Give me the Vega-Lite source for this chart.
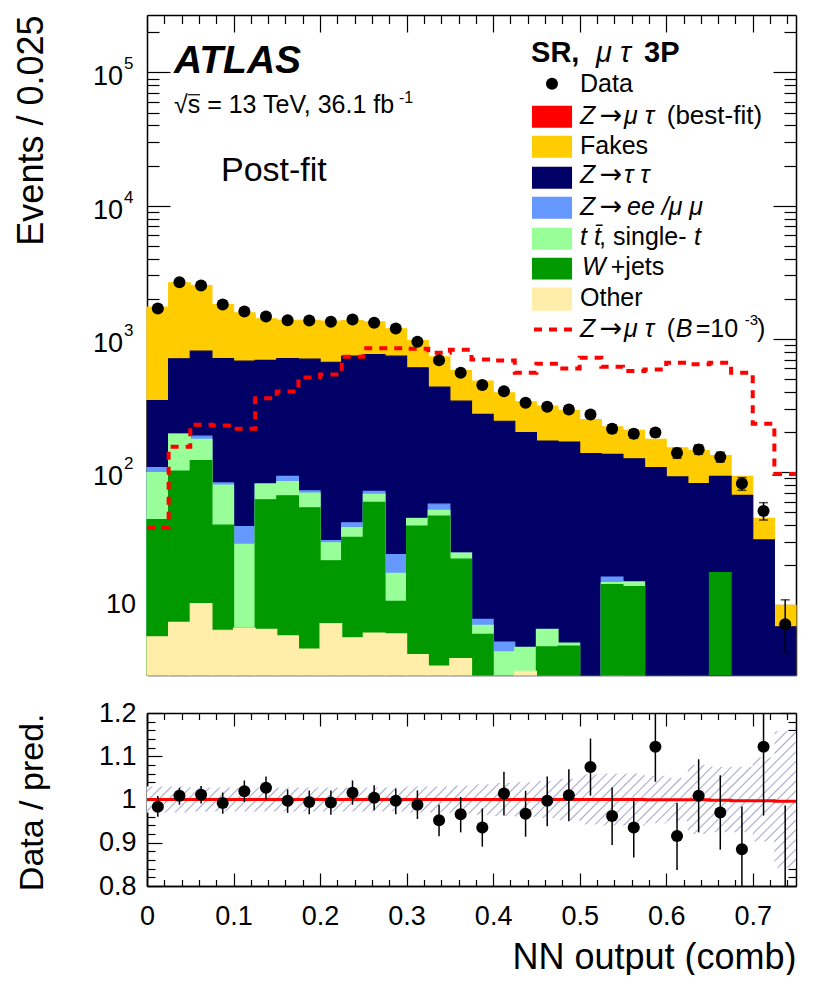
{"$schema":"https://vega.github.io/schema/vega-lite/v6.json","background":"white","padding":{"left":13,"top":14,"right":0,"bottom":0},"spacing":23,
"config":{"view":{"stroke":null},"text":{"baseline":"alphabetic","align":"left","font":"Liberation Sans","color":"#000"},"axis":{"domainColor":"#000","domainWidth":1.5,"tickColor":"#000","tickWidth":1.2,"labelFont":"Liberation Sans","titleFont":"Liberation Sans","labelColor":"#000","titleColor":"#000","labelFontSize":27,"titleFontSize":36,"titleFontWeight":"normal","grid":false,"zindex":1,"labelOverlap":false,"labelFlush":false,"labelBound":false}},
"datasets":{
"stack":[
{"p":"Fakes","b":0,"e":0.025,"top":1730},{"p":"Fakes","b":0.025,"e":0.05,"top":2636},{"p":"Fakes","b":0.05,"e":0.075,"top":2515},{"p":"Fakes","b":0.075,"e":0.1,"top":1811},{"p":"Fakes","b":0.1,"e":0.125,"top":1570},{"p":"Fakes","b":0.125,"e":0.15,"top":1415},{"p":"Fakes","b":0.15,"e":0.175,"top":1381},{"p":"Fakes","b":0.175,"e":0.2,"top":1381},{"p":"Fakes","b":0.2,"e":0.225,"top":1358},{"p":"Fakes","b":0.225,"e":0.25,"top":1374},{"p":"Fakes","b":0.25,"e":0.275,"top":1343},{"p":"Fakes","b":0.275,"e":0.3,"top":1191},{"p":"Fakes","b":0.3,"e":0.325,"top":973},{"p":"Fakes","b":0.325,"e":0.35,"top":734},{"p":"Fakes","b":0.35,"e":0.375,"top":579},{"p":"Fakes","b":0.375,"e":0.4,"top":482},{"p":"Fakes","b":0.4,"e":0.425,"top":394},{"p":"Fakes","b":0.425,"e":0.45,"top":337},{"p":"Fakes","b":0.45,"e":0.475,"top":313},{"p":"Fakes","b":0.475,"e":0.5,"top":290},{"p":"Fakes","b":0.5,"e":0.525,"top":248},{"p":"Fakes","b":0.525,"e":0.55,"top":219},{"p":"Fakes","b":0.55,"e":0.575,"top":206},{"p":"Fakes","b":0.575,"e":0.6,"top":176},{"p":"Fakes","b":0.6,"e":0.625,"top":152},{"p":"Fakes","b":0.625,"e":0.65,"top":145},{"p":"Fakes","b":0.65,"e":0.675,"top":133},{"p":"Fakes","b":0.675,"e":0.7,"top":93},{"p":"Fakes","b":0.7,"e":0.725,"top":45},{"p":"Fakes","b":0.725,"e":0.75,"top":10},
{"p":"Ztt","b":0,"e":0.025,"top":344},{"p":"Ztt","b":0.025,"e":0.05,"top":709},{"p":"Ztt","b":0.05,"e":0.075,"top":809},{"p":"Ztt","b":0.075,"e":0.1,"top":713},{"p":"Ztt","b":0.1,"e":0.125,"top":680},{"p":"Ztt","b":0.125,"e":0.15,"top":689},{"p":"Ztt","b":0.15,"e":0.175,"top":713},{"p":"Ztt","b":0.175,"e":0.2,"top":704},{"p":"Ztt","b":0.2,"e":0.225,"top":668},{"p":"Ztt","b":0.225,"e":0.25,"top":742},{"p":"Ztt","b":0.25,"e":0.275,"top":764},{"p":"Ztt","b":0.275,"e":0.3,"top":742},{"p":"Ztt","b":0.3,"e":0.325,"top":607},{"p":"Ztt","b":0.325,"e":0.35,"top":434},{"p":"Ztt","b":0.35,"e":0.375,"top":341},{"p":"Ztt","b":0.375,"e":0.4,"top":271},{"p":"Ztt","b":0.4,"e":0.425,"top":241},{"p":"Ztt","b":0.425,"e":0.45,"top":198},{"p":"Ztt","b":0.45,"e":0.475,"top":171},{"p":"Ztt","b":0.475,"e":0.5,"top":168},{"p":"Ztt","b":0.5,"e":0.525,"top":138},{"p":"Ztt","b":0.525,"e":0.55,"top":136},{"p":"Ztt","b":0.55,"e":0.575,"top":126},{"p":"Ztt","b":0.575,"e":0.6,"top":108},{"p":"Ztt","b":0.6,"e":0.625,"top":92},{"p":"Ztt","b":0.625,"e":0.65,"top":82},{"p":"Ztt","b":0.65,"e":0.675,"top":93},{"p":"Ztt","b":0.675,"e":0.7,"top":67},{"p":"Ztt","b":0.7,"e":0.725,"top":31},{"p":"Ztt","b":0.725,"e":0.75,"top":6.9},
{"p":"Zll","b":0,"e":0.025,"top":108},{"p":"Zll","b":0.025,"e":0.05,"top":194},{"p":"Zll","b":0.05,"e":0.075,"top":186},{"p":"Zll","b":0.075,"e":0.1,"top":83},{"p":"Zll","b":0.1,"e":0.125,"top":39},{"p":"Zll","b":0.125,"e":0.15,"top":82},{"p":"Zll","b":0.15,"e":0.175,"top":93},{"p":"Zll","b":0.175,"e":0.2,"top":72.5},{"p":"Zll","b":0.2,"e":0.225,"top":30.6},{"p":"Zll","b":0.225,"e":0.25,"top":41.7},{"p":"Zll","b":0.25,"e":0.275,"top":71.7},{"p":"Zll","b":0.275,"e":0.3,"top":24},{"p":"Zll","b":0.3,"e":0.325,"top":45},{"p":"Zll","b":0.325,"e":0.35,"top":57.5},{"p":"Zll","b":0.35,"e":0.375,"top":24.7},{"p":"Zll","b":0.375,"e":0.4,"top":7.85},{"p":"Zll","b":0.4,"e":0.425,"top":5.3},{"p":"Zll","b":0.525,"e":0.55,"top":16.3},
{"p":"Top","b":0,"e":0.025,"top":99},{"p":"Top","b":0.025,"e":0.05,"top":192},{"p":"Top","b":0.05,"e":0.075,"top":176},{"p":"Top","b":0.075,"e":0.1,"top":80},{"p":"Top","b":0.1,"e":0.125,"top":28.7},{"p":"Top","b":0.125,"e":0.15,"top":81},{"p":"Top","b":0.15,"e":0.175,"top":85},{"p":"Top","b":0.175,"e":0.2,"top":69.5},{"p":"Top","b":0.2,"e":0.225,"top":29.5},{"p":"Top","b":0.225,"e":0.25,"top":38.3},{"p":"Top","b":0.25,"e":0.275,"top":68},{"p":"Top","b":0.275,"e":0.3,"top":17.4},{"p":"Top","b":0.3,"e":0.325,"top":44.8},{"p":"Top","b":0.325,"e":0.35,"top":51.6},{"p":"Top","b":0.35,"e":0.375,"top":24.7},{"p":"Top","b":0.375,"e":0.4,"top":7.08},{"p":"Top","b":0.4,"e":0.425,"top":4.47},{"p":"Top","b":0.425,"e":0.45,"top":4.84},{"p":"Top","b":0.45,"e":0.475,"top":6.6},{"p":"Top","b":0.475,"e":0.5,"top":5.2},{"p":"Top","b":0.525,"e":0.55,"top":14.8},{"p":"Top","b":0.55,"e":0.575,"top":15},
{"p":"W","b":0,"e":0.025,"top":44},{"p":"W","b":0.025,"e":0.05,"top":102},{"p":"W","b":0.05,"e":0.075,"top":122},{"p":"W","b":0.075,"e":0.1,"top":40},{"p":"W","b":0.1,"e":0.125,"top":6.75},{"p":"W","b":0.125,"e":0.15,"top":62},{"p":"W","b":0.15,"e":0.175,"top":66.5},{"p":"W","b":0.175,"e":0.2,"top":54},{"p":"W","b":0.2,"e":0.225,"top":21.6},{"p":"W","b":0.225,"e":0.25,"top":32.4},{"p":"W","b":0.25,"e":0.275,"top":59.3},{"p":"W","b":0.275,"e":0.3,"top":10.7},{"p":"W","b":0.3,"e":0.325,"top":39.4},{"p":"W","b":0.325,"e":0.35,"top":46.8},{"p":"W","b":0.35,"e":0.375,"top":22.2},{"p":"W","b":0.375,"e":0.4,"top":6.06},{"p":"W","b":0.45,"e":0.475,"top":4.87},{"p":"W","b":0.475,"e":0.5,"top":4.95},{"p":"W","b":0.525,"e":0.55,"top":14.3},{"p":"W","b":0.55,"e":0.575,"top":13.8},{"p":"W","b":0.65,"e":0.675,"top":17.6},
{"p":"Other","b":0,"e":0.025,"top":5.8},{"p":"Other","b":0.025,"e":0.05,"top":7.45},{"p":"Other","b":0.05,"e":0.075,"top":10.3},{"p":"Other","b":0.075,"e":0.1,"top":6.5},{"p":"Other","b":0.1,"e":0.125,"top":6.75},{"p":"Other","b":0.125,"e":0.15,"top":6.6},{"p":"Other","b":0.15,"e":0.175,"top":5.9},{"p":"Other","b":0.175,"e":0.2,"top":4.7},{"p":"Other","b":0.2,"e":0.225,"top":7.3},{"p":"Other","b":0.225,"e":0.25,"top":5.7},{"p":"Other","b":0.25,"e":0.275,"top":6.2},{"p":"Other","b":0.275,"e":0.3,"top":6.1},{"p":"Other","b":0.3,"e":0.325,"top":4.27},{"p":"Other","b":0.325,"e":0.35,"top":3.5},{"p":"Other","b":0.35,"e":0.375,"top":3.98},{"p":"Other","b":0.425,"e":0.45,"top":3.2}],
"signal":[{"edge":0,"v":38},{"edge":0.025,"v":155},{"edge":0.05,"v":227},{"edge":0.075,"v":224},{"edge":0.1,"v":212},{"edge":0.125,"v":359},{"edge":0.15,"v":403},{"edge":0.175,"v":513},{"edge":0.2,"v":541},{"edge":0.225,"v":734},{"edge":0.25,"v":851},{"edge":0.275,"v":851},{"edge":0.3,"v":843},{"edge":0.325,"v":787},{"edge":0.35,"v":828},{"edge":0.375,"v":700},{"edge":0.4,"v":689},{"edge":0.425,"v":557},{"edge":0.45,"v":650},{"edge":0.475,"v":600},{"edge":0.5,"v":721},{"edge":0.525,"v":617},{"edge":0.55,"v":573},{"edge":0.575,"v":589},{"edge":0.6,"v":662},{"edge":0.625,"v":646},{"edge":0.65,"v":662},{"edge":0.675,"v":557},{"edge":0.7,"v":231},{"edge":0.725,"v":97},{"edge":0.75,"v":97}],
"points":[{"c":0.0125,"n":1690,"lo":1649,"hi":1731,"r":0.983,"rlo":0.96,"rhi":1.008},{"c":0.0375,"n":2662,"lo":2610,"hi":2714,"r":1.0085,"rlo":0.988,"rhi":1.027},{"c":0.0625,"n":2515,"lo":2465,"hi":2565,"r":1.011,"rlo":0.991,"rhi":1.031},{"c":0.0875,"n":1811,"lo":1768,"hi":1854,"r":0.992,"rlo":0.967,"rhi":1.016},{"c":0.1125,"n":1605,"lo":1565,"hi":1645,"r":1.019,"rlo":0.994,"rhi":1.044},{"c":0.1375,"n":1472,"lo":1434,"hi":1510,"r":1.027,"rlo":1,"rhi":1.053},{"c":0.1625,"n":1381,"lo":1344,"hi":1418,"r":0.997,"rlo":0.969,"rhi":1.023},{"c":0.1875,"n":1374,"lo":1337,"hi":1411,"r":0.994,"rlo":0.966,"rhi":1.021},{"c":0.2125,"n":1343,"lo":1306,"hi":1380,"r":0.993,"rlo":0.965,"rhi":1.021},{"c":0.2375,"n":1398,"lo":1361,"hi":1435,"r":1.0155,"rlo":0.988,"rhi":1.044},{"c":0.2625,"n":1321,"lo":1285,"hi":1357,"r":1.004,"rlo":0.975,"rhi":1.033},{"c":0.2875,"n":1197,"lo":1162,"hi":1232,"r":0.997,"rlo":0.966,"rhi":1.025},{"c":0.3125,"n":951,"lo":920,"hi":982,"r":0.988,"rlo":0.955,"rhi":1.021},{"c":0.3375,"n":692,"lo":666,"hi":718,"r":0.952,"rlo":0.915,"rhi":0.988},{"c":0.3625,"n":557,"lo":533,"hi":581,"r":0.966,"rlo":0.924,"rhi":1.006},{"c":0.3875,"n":450,"lo":429,"hi":471,"r":0.935,"rlo":0.891,"rhi":0.979},{"c":0.4125,"n":405,"lo":385,"hi":425,"r":1.014,"rlo":0.963,"rhi":1.064},{"c":0.4375,"n":332,"lo":314,"hi":350,"r":0.967,"rlo":0.914,"rhi":1.02},{"c":0.4625,"n":310,"lo":292,"hi":328,"r":0.997,"rlo":0.938,"rhi":1.053},{"c":0.4875,"n":295,"lo":278,"hi":312,"r":1.01,"rlo":0.95,"rhi":1.07},{"c":0.5125,"n":271,"lo":255,"hi":287,"r":1.075,"rlo":1.009,"rhi":1.141},{"c":0.5375,"n":212,"lo":197,"hi":227,"r":0.962,"rlo":0.895,"rhi":1.028},{"c":0.5625,"n":194,"lo":180,"hi":208,"r":0.935,"rlo":0.866,"rhi":1.002},{"c":0.5875,"n":198,"lo":184,"hi":212,"r":1.122,"rlo":1.041,"rhi":1.27},{"c":0.6125,"n":139,"lo":127,"hi":151,"r":0.9155,"rlo":0.837,"rhi":0.992},{"c":0.6375,"n":148,"lo":136,"hi":160,"r":1.0085,"rlo":0.924,"rhi":1.093},{"c":0.6625,"n":130,"lo":119,"hi":141,"r":0.97,"rlo":0.884,"rhi":1.056},{"c":0.6875,"n":82,"lo":73,"hi":91,"r":0.885,"rlo":0.79,"rhi":0.984},{"c":0.7125,"n":51,"lo":43.7,"hi":59,"r":1.122,"rlo":0.963,"rhi":1.27},{"c":0.7375,"n":7.2,"lo":4.47,"hi":11,"r":0.72,"rlo":0.7,"rhi":0.986}],
"band":[{"edge":0,"lo":0.97,"hi":1.03},{"edge":0.025,"lo":0.97,"hi":1.03},{"edge":0.05,"lo":0.972,"hi":1.028},{"edge":0.075,"lo":0.972,"hi":1.028},{"edge":0.1,"lo":0.972,"hi":1.028},{"edge":0.125,"lo":0.972,"hi":1.028},{"edge":0.15,"lo":0.972,"hi":1.028},{"edge":0.175,"lo":0.972,"hi":1.028},{"edge":0.2,"lo":0.972,"hi":1.028},{"edge":0.225,"lo":0.972,"hi":1.028},{"edge":0.25,"lo":0.972,"hi":1.028},{"edge":0.275,"lo":0.972,"hi":1.028},{"edge":0.3,"lo":0.97,"hi":1.03},{"edge":0.325,"lo":0.97,"hi":1.03},{"edge":0.35,"lo":0.968,"hi":1.032},{"edge":0.375,"lo":0.965,"hi":1.035},{"edge":0.4,"lo":0.962,"hi":1.038},{"edge":0.425,"lo":0.96,"hi":1.04},{"edge":0.45,"lo":0.957,"hi":1.043},{"edge":0.475,"lo":0.952,"hi":1.048},{"edge":0.5,"lo":0.942,"hi":1.058},{"edge":0.525,"lo":0.94,"hi":1.06},{"edge":0.55,"lo":0.94,"hi":1.06},{"edge":0.575,"lo":0.945,"hi":1.055},{"edge":0.6,"lo":0.95,"hi":1.05},{"edge":0.625,"lo":0.92,"hi":1.08},{"edge":0.65,"lo":0.924,"hi":1.076},{"edge":0.675,"lo":0.924,"hi":1.076},{"edge":0.7,"lo":0.903,"hi":1.097},{"edge":0.725,"lo":0.842,"hi":1.158},{"edge":0.75,"lo":0.842,"hi":1.158}],
"fit":[{"edge":0,"v":1},{"edge":0.55,"v":1},{"edge":0.575,"v":0.9995},{"edge":0.65,"v":0.998},{"edge":0.675,"v":0.997},{"edge":0.725,"v":0.996},{"edge":0.75,"v":0.996}]
},
"vconcat":[
{"width":649,"height":660,"resolve":{"axis":{"x":"independent","y":"independent"}},"layer":[
{"data":{"values":[{}]},"layer":[
{"data":{"name":"stack"},"mark":{"type":"rect","strokeWidth":1.2,"opacity":1},"encoding":{
"x":{"field":"b","type":"quantitative","scale":{"domain":[0,0.75],"nice":false,"zero":false},"axis":{"orient":"bottom","title":null,"labels":false,"values":[0,0.02,0.04,0.06,0.08,0.1,0.12,0.14,0.16,0.18,0.2,0.22,0.24,0.26,0.28,0.3,0.32,0.34,0.36,0.38,0.4,0.42,0.44,0.46,0.48,0.5,0.52,0.54,0.56,0.58,0.6,0.62,0.64,0.66,0.68,0.7,0.72,0.74],"tickSize":{"condition":{"test":"round(datum.value*100)%10==0","value":-17},"value":-8.5}}},
"x2":{"field":"e"},
"y":{"field":"top","type":"quantitative","scale":{"type":"log","domain":[3,270000],"nice":false},"axis":{"orient":"left","title":"Events / 0.025","titleAnchor":"end","labels":false,"titlePadding":96,"values":[4,5,6,7,8,9,10,20,30,40,50,60,70,80,90,100,200,300,400,500,600,700,800,900,1000,2000,3000,4000,5000,6000,7000,8000,9000,10000,20000,30000,40000,50000,60000,70000,80000,90000,100000,200000],"tickSize":{"condition":{"test":"indexof([10,100,1000,10000,100000],datum.value)>=0","value":-23},"value":-12}}},
"y2":{"datum":3},
"color":{"field":"p","type":"nominal","legend":null,"scale":{"domain":["Fakes","Ztt","Zll","Top","W","Other"],"range":["#ffcc00","#000066","#6699ff","#99ff99","#009900","#ffeeaa"]}},
"stroke":{"field":"p","type":"nominal","legend":null,"scale":{"domain":["Fakes","Ztt","Zll","Top","W","Other"],"range":["#ffcc00","#000066","#6699ff","#99ff99","#009900","#ffeeaa"]}}}},
{"data":{"name":"signal"},"mark":{"type":"line","interpolate":"step-after","color":"#ff0000","strokeWidth":4,"strokeDash":[8,7]},"encoding":{"x":{"field":"edge","type":"quantitative"},"y":{"field":"v","type":"quantitative"}}},
{"data":{"name":"points"},"mark":{"type":"rule","color":"#000","strokeWidth":1.5},"encoding":{"x":{"field":"c","type":"quantitative"},"y":{"field":"lo","type":"quantitative"},"y2":{"field":"hi"}}},
{"data":{"name":"points"},"mark":{"type":"tick","orient":"horizontal","color":"#000","size":9,"thickness":1.5},"encoding":{"x":{"field":"c","type":"quantitative"},"y":{"field":"lo","type":"quantitative"}}},
{"data":{"name":"points"},"mark":{"type":"tick","orient":"horizontal","color":"#000","size":9,"thickness":1.5},"encoding":{"x":{"field":"c","type":"quantitative"},"y":{"field":"hi","type":"quantitative"}}},
{"data":{"name":"points"},"mark":{"type":"point","filled":true,"color":"#000","opacity":1,"size":145},"encoding":{"x":{"field":"c","type":"quantitative"},"y":{"field":"n","type":"quantitative"}}},
{"data":{"values":[{"v":100},{"v":1000},{"v":10000},{"v":100000}]},"mark":{"type":"text","text":"10","align":"right","baseline":"middle","fontSize":27,"dx":-24,"dy":5},"encoding":{"x":{"datum":0},"y":{"field":"v","type":"quantitative"}}},
{"data":{"values":[{"v":100,"e":"2"},{"v":1000,"e":"3"},{"v":10000,"e":"4"},{"v":100000,"e":"5"}]},"mark":{"type":"text","baseline":"middle","fontSize":17,"dx":-23,"dy":-8},"encoding":{"x":{"datum":0},"y":{"field":"v","type":"quantitative"},"text":{"field":"e"}}},
{"data":{"values":[{"v":10}]},"mark":{"type":"text","text":"10","align":"right","baseline":"middle","fontSize":27,"dx":-11},"encoding":{"x":{"datum":0},"y":{"field":"v","type":"quantitative"}}},
{"mark":{"type":"text","text":"ATLAS","fontSize":39,"fontWeight":"bold","fontStyle":"italic"},"encoding":{"x":{"datum":0.0312},"y":{"datum":99500}}},
{"mark":{"type":"text","text":"√s = 13 TeV, 36.1 fb","fontSize":25},"encoding":{"x":{"datum":0.0312},"y":{"datum":49860}}},
{"mark":{"type":"rule","color":"#000","strokeWidth":1.2},"encoding":{"x":{"datum":0.0475},"x2":{"datum":0.0613},"y":{"datum":68040}}},
{"mark":{"type":"text","text":"-1","fontSize":16},"encoding":{"x":{"datum":0.2912},"y":{"datum":59270}}},
{"mark":{"type":"text","text":"Post-fit","fontSize":34},"encoding":{"x":{"datum":0.0855},"y":{"datum":15400}}},
{"mark":{"type":"text","text":"SR,","fontSize":29,"fontWeight":"bold"},"encoding":{"x":{"datum":0.4438},"y":{"datum":120300}}},
{"mark":{"type":"text","text":"μ τ","fontSize":29,"fontStyle":"italic"},"encoding":{"x":{"datum":0.5189},"y":{"datum":120300}}},
{"mark":{"type":"text","text":"3P","fontSize":29,"fontWeight":"bold"},"encoding":{"x":{"datum":0.5744},"y":{"datum":120300}}},
{"mark":{"type":"point","filled":true,"color":"#000","opacity":1,"size":145},"encoding":{"x":{"datum":0.468},"y":{"datum":82250}}},
{"mark":{"type":"text","text":"Data","fontSize":25},"encoding":{"x":{"datum":0.5004},"y":{"datum":71650}}},
{"mark":{"type":"rect","color":"#ff0000"},"encoding":{"x":{"datum":0.4449},"x2":{"datum":0.4912},"y":{"datum":56270},"y2":{"datum":38470}}},
{"mark":{"type":"text","text":"Z","fontSize":25,"fontStyle":"italic"},"encoding":{"x":{"datum":0.5004},"y":{"datum":41230}}},
{"mark":{"type":"text","text":"→","font":"DejaVu Sans","fontSize":27},"encoding":{"x":{"datum":0.5232},"y":{"datum":41230}}},
{"mark":{"type":"text","text":"μ τ","fontSize":25,"fontStyle":"italic"},"encoding":{"x":{"datum":0.5513},"y":{"datum":41230}}},
{"mark":{"type":"text","text":"(best-fit)","fontSize":26},"encoding":{"x":{"datum":0.6006},"y":{"datum":41230}}},
{"mark":{"type":"rect","color":"#ffcc00"},"encoding":{"x":{"datum":0.4449},"x2":{"datum":0.4912},"y":{"datum":33500},"y2":{"datum":22910}}},
{"mark":{"type":"text","text":"Fakes","fontSize":25},"encoding":{"x":{"datum":0.5004},"y":{"datum":24550}}},
{"mark":{"type":"rect","color":"#000066"},"encoding":{"x":{"datum":0.4449},"x2":{"datum":0.4912},"y":{"datum":19620},"y2":{"datum":13410}}},
{"mark":{"type":"text","text":"Z","fontSize":25,"fontStyle":"italic"},"encoding":{"x":{"datum":0.5004},"y":{"datum":14880}}},
{"mark":{"type":"text","text":"→","font":"DejaVu Sans","fontSize":27},"encoding":{"x":{"datum":0.5232},"y":{"datum":14880}}},
{"mark":{"type":"text","text":"τ τ","fontSize":25,"fontStyle":"italic"},"encoding":{"x":{"datum":0.5513},"y":{"datum":14880}}},
{"mark":{"type":"rect","color":"#6699ff"},"encoding":{"x":{"datum":0.4449},"x2":{"datum":0.4912},"y":{"datum":11680},"y2":{"datum":7990}}},
{"mark":{"type":"text","text":"Z","fontSize":25,"fontStyle":"italic"},"encoding":{"x":{"datum":0.5004},"y":{"datum":8560}}},
{"mark":{"type":"text","text":"→","font":"DejaVu Sans","fontSize":27},"encoding":{"x":{"datum":0.5232},"y":{"datum":8560}}},
{"mark":{"type":"text","text":"ee /μ μ","fontSize":25,"fontStyle":"italic"},"encoding":{"x":{"datum":0.5547},"y":{"datum":8560}}},
{"mark":{"type":"rect","color":"#99ff99"},"encoding":{"x":{"datum":0.4449},"x2":{"datum":0.4912},"y":{"datum":6840},"y2":{"datum":4677}}},
{"mark":{"type":"text","text":"t t̄","fontSize":25,"fontStyle":"italic"},"encoding":{"x":{"datum":0.5004},"y":{"datum":5097}}},
{"mark":{"type":"text","text":", single-","fontSize":25},"encoding":{"x":{"datum":0.5224},"y":{"datum":5097}}},
{"mark":{"type":"text","text":"t","fontSize":25,"fontStyle":"italic"},"encoding":{"x":{"datum":0.6322},"y":{"datum":5097}}},
{"mark":{"type":"rect","color":"#009900"},"encoding":{"x":{"datum":0.4449},"x2":{"datum":0.4912},"y":{"datum":4074},"y2":{"datum":2786}}},
{"mark":{"type":"text","text":"W","fontSize":25,"fontStyle":"italic"},"encoding":{"x":{"datum":0.5027},"y":{"datum":3036}}},
{"mark":{"type":"text","text":"+jets","fontSize":25},"encoding":{"x":{"datum":0.5359},"y":{"datum":3036}}},
{"mark":{"type":"rect","color":"#ffeeaa"},"encoding":{"x":{"datum":0.4449},"x2":{"datum":0.4912},"y":{"datum":2427},"y2":{"datum":1630}}},
{"mark":{"type":"text","text":"Other","fontSize":25},"encoding":{"x":{"datum":0.5004},"y":{"datum":1777}}},
{"mark":{"type":"rule","color":"#ff0000","strokeWidth":4,"strokeDash":[8,7]},"encoding":{"x":{"datum":0.4472},"x2":{"datum":0.4912},"y":{"datum":1175}}},
{"mark":{"type":"text","text":"Z","fontSize":25,"fontStyle":"italic"},"encoding":{"x":{"datum":0.5004},"y":{"datum":1040}}},
{"mark":{"type":"text","text":"→","font":"DejaVu Sans","fontSize":27},"encoding":{"x":{"datum":0.5232},"y":{"datum":1040}}},
{"mark":{"type":"text","text":"μ τ","fontSize":25,"fontStyle":"italic"},"encoding":{"x":{"datum":0.5513},"y":{"datum":1040}}},
{"mark":{"type":"text","text":"(","fontSize":25},"encoding":{"x":{"datum":0.6006},"y":{"datum":1040}}},
{"mark":{"type":"text","text":"B","fontSize":25,"fontStyle":"italic"},"encoding":{"x":{"datum":0.611},"y":{"datum":1040}}},
{"mark":{"type":"text","text":"=10","fontSize":25},"encoding":{"x":{"datum":0.6341},"y":{"datum":1040}}},
{"mark":{"type":"text","text":"-3","fontSize":15},"encoding":{"x":{"datum":0.6907},"y":{"datum":1280}}},
{"mark":{"type":"text","text":")","fontSize":25},"encoding":{"x":{"datum":0.705},"y":{"datum":1040}}}
]},
{"data":{"name":"points"},"mark":{"type":"point","opacity":0},"encoding":{
"x":{"field":"c","type":"quantitative","axis":{"orient":"top","title":null,"labels":false,"values":[0,0.02,0.04,0.06,0.08,0.1,0.12,0.14,0.16,0.18,0.2,0.22,0.24,0.26,0.28,0.3,0.32,0.34,0.36,0.38,0.4,0.42,0.44,0.46,0.48,0.5,0.52,0.54,0.56,0.58,0.6,0.62,0.64,0.66,0.68,0.7,0.72,0.74],"tickSize":{"condition":{"test":"round(datum.value*100)%10==0","value":-17},"value":-8.5}}},
"y":{"field":"n","type":"quantitative","axis":{"orient":"right","title":null,"labels":false,"values":[4,5,6,7,8,9,10,20,30,40,50,60,70,80,90,100,200,300,400,500,600,700,800,900,1000,2000,3000,4000,5000,6000,7000,8000,9000,10000,20000,30000,40000,50000,60000,70000,80000,90000,100000,200000],"tickSize":{"condition":{"test":"indexof([10,100,1000,10000,100000],datum.value)>=0","value":-23},"value":-12}}}}}
]},
{"width":649,"height":173,"resolve":{"axis":{"x":"independent","y":"independent"}},"layer":[
{"layer":[
{"data":{"name":"band"},"mark":{"type":"area","interpolate":"step-after","line":false,"opacity":1,"clip":true,"fill":{"gradient":"linear","x1":0,"y1":0,"x2":1.159,"y2":0.245,"stops":[{"offset":0,"color":"#fff"},{"offset":0.0125,"color":"#fff"},{"offset":0.0145,"color":"#aac"},{"offset":0.0165,"color":"#fff"},{"offset":0.025,"color":"#fff"},{"offset":0.027,"color":"#aac"},{"offset":0.029,"color":"#fff"},{"offset":0.0375,"color":"#fff"},{"offset":0.0395,"color":"#aac"},{"offset":0.0415,"color":"#fff"},{"offset":0.05,"color":"#fff"},{"offset":0.052,"color":"#aac"},{"offset":0.054,"color":"#fff"},{"offset":0.0625,"color":"#fff"},{"offset":0.0645,"color":"#aac"},{"offset":0.0665,"color":"#fff"},{"offset":0.075,"color":"#fff"},{"offset":0.077,"color":"#aac"},{"offset":0.079,"color":"#fff"},{"offset":0.0875,"color":"#fff"},{"offset":0.0895,"color":"#aac"},{"offset":0.0915,"color":"#fff"},{"offset":0.1,"color":"#fff"},{"offset":0.102,"color":"#aac"},{"offset":0.104,"color":"#fff"},{"offset":0.1125,"color":"#fff"},{"offset":0.1145,"color":"#aac"},{"offset":0.1165,"color":"#fff"},{"offset":0.125,"color":"#fff"},{"offset":0.127,"color":"#aac"},{"offset":0.129,"color":"#fff"},{"offset":0.1375,"color":"#fff"},{"offset":0.1395,"color":"#aac"},{"offset":0.1415,"color":"#fff"},{"offset":0.15,"color":"#fff"},{"offset":0.152,"color":"#aac"},{"offset":0.154,"color":"#fff"},{"offset":0.1625,"color":"#fff"},{"offset":0.1645,"color":"#aac"},{"offset":0.1665,"color":"#fff"},{"offset":0.175,"color":"#fff"},{"offset":0.177,"color":"#aac"},{"offset":0.179,"color":"#fff"},{"offset":0.1875,"color":"#fff"},{"offset":0.1895,"color":"#aac"},{"offset":0.1915,"color":"#fff"},{"offset":0.2,"color":"#fff"},{"offset":0.202,"color":"#aac"},{"offset":0.204,"color":"#fff"},{"offset":0.2125,"color":"#fff"},{"offset":0.2145,"color":"#aac"},{"offset":0.2165,"color":"#fff"},{"offset":0.225,"color":"#fff"},{"offset":0.227,"color":"#aac"},{"offset":0.229,"color":"#fff"},{"offset":0.2375,"color":"#fff"},{"offset":0.2395,"color":"#aac"},{"offset":0.2415,"color":"#fff"},{"offset":0.25,"color":"#fff"},{"offset":0.252,"color":"#aac"},{"offset":0.254,"color":"#fff"},{"offset":0.2625,"color":"#fff"},{"offset":0.2645,"color":"#aac"},{"offset":0.2665,"color":"#fff"},{"offset":0.275,"color":"#fff"},{"offset":0.277,"color":"#aac"},{"offset":0.279,"color":"#fff"},{"offset":0.2875,"color":"#fff"},{"offset":0.2895,"color":"#aac"},{"offset":0.2915,"color":"#fff"},{"offset":0.3,"color":"#fff"},{"offset":0.302,"color":"#aac"},{"offset":0.304,"color":"#fff"},{"offset":0.3125,"color":"#fff"},{"offset":0.3145,"color":"#aac"},{"offset":0.3165,"color":"#fff"},{"offset":0.325,"color":"#fff"},{"offset":0.327,"color":"#aac"},{"offset":0.329,"color":"#fff"},{"offset":0.3375,"color":"#fff"},{"offset":0.3395,"color":"#aac"},{"offset":0.3415,"color":"#fff"},{"offset":0.35,"color":"#fff"},{"offset":0.352,"color":"#aac"},{"offset":0.354,"color":"#fff"},{"offset":0.3625,"color":"#fff"},{"offset":0.3645,"color":"#aac"},{"offset":0.3665,"color":"#fff"},{"offset":0.375,"color":"#fff"},{"offset":0.377,"color":"#aac"},{"offset":0.379,"color":"#fff"},{"offset":0.3875,"color":"#fff"},{"offset":0.3895,"color":"#aac"},{"offset":0.3915,"color":"#fff"},{"offset":0.4,"color":"#fff"},{"offset":0.402,"color":"#aac"},{"offset":0.404,"color":"#fff"},{"offset":0.4125,"color":"#fff"},{"offset":0.4145,"color":"#aac"},{"offset":0.4165,"color":"#fff"},{"offset":0.425,"color":"#fff"},{"offset":0.427,"color":"#aac"},{"offset":0.429,"color":"#fff"},{"offset":0.4375,"color":"#fff"},{"offset":0.4395,"color":"#aac"},{"offset":0.4415,"color":"#fff"},{"offset":0.45,"color":"#fff"},{"offset":0.452,"color":"#aac"},{"offset":0.454,"color":"#fff"},{"offset":0.4625,"color":"#fff"},{"offset":0.4645,"color":"#aac"},{"offset":0.4665,"color":"#fff"},{"offset":0.475,"color":"#fff"},{"offset":0.477,"color":"#aac"},{"offset":0.479,"color":"#fff"},{"offset":0.4875,"color":"#fff"},{"offset":0.4895,"color":"#aac"},{"offset":0.4915,"color":"#fff"},{"offset":0.5,"color":"#fff"},{"offset":0.502,"color":"#aac"},{"offset":0.504,"color":"#fff"},{"offset":0.5125,"color":"#fff"},{"offset":0.5145,"color":"#aac"},{"offset":0.5165,"color":"#fff"},{"offset":0.525,"color":"#fff"},{"offset":0.527,"color":"#aac"},{"offset":0.529,"color":"#fff"},{"offset":0.5375,"color":"#fff"},{"offset":0.5395,"color":"#aac"},{"offset":0.5415,"color":"#fff"},{"offset":0.55,"color":"#fff"},{"offset":0.552,"color":"#aac"},{"offset":0.554,"color":"#fff"},{"offset":0.5625,"color":"#fff"},{"offset":0.5645,"color":"#aac"},{"offset":0.5665,"color":"#fff"},{"offset":0.575,"color":"#fff"},{"offset":0.577,"color":"#aac"},{"offset":0.579,"color":"#fff"},{"offset":0.5875,"color":"#fff"},{"offset":0.5895,"color":"#aac"},{"offset":0.5915,"color":"#fff"},{"offset":0.6,"color":"#fff"},{"offset":0.602,"color":"#aac"},{"offset":0.604,"color":"#fff"},{"offset":0.6125,"color":"#fff"},{"offset":0.6145,"color":"#aac"},{"offset":0.6165,"color":"#fff"},{"offset":0.625,"color":"#fff"},{"offset":0.627,"color":"#aac"},{"offset":0.629,"color":"#fff"},{"offset":0.6375,"color":"#fff"},{"offset":0.6395,"color":"#aac"},{"offset":0.6415,"color":"#fff"},{"offset":0.65,"color":"#fff"},{"offset":0.652,"color":"#aac"},{"offset":0.654,"color":"#fff"},{"offset":0.6625,"color":"#fff"},{"offset":0.6645,"color":"#aac"},{"offset":0.6665,"color":"#fff"},{"offset":0.675,"color":"#fff"},{"offset":0.677,"color":"#aac"},{"offset":0.679,"color":"#fff"},{"offset":0.6875,"color":"#fff"},{"offset":0.6895,"color":"#aac"},{"offset":0.6915,"color":"#fff"},{"offset":0.7,"color":"#fff"},{"offset":0.702,"color":"#aac"},{"offset":0.704,"color":"#fff"},{"offset":0.7125,"color":"#fff"},{"offset":0.7145,"color":"#aac"},{"offset":0.7165,"color":"#fff"},{"offset":0.725,"color":"#fff"},{"offset":0.727,"color":"#aac"},{"offset":0.729,"color":"#fff"},{"offset":0.7375,"color":"#fff"},{"offset":0.7395,"color":"#aac"},{"offset":0.7415,"color":"#fff"},{"offset":0.75,"color":"#fff"},{"offset":0.752,"color":"#aac"},{"offset":0.754,"color":"#fff"},{"offset":0.7625,"color":"#fff"},{"offset":0.7645,"color":"#aac"},{"offset":0.7665,"color":"#fff"},{"offset":0.775,"color":"#fff"},{"offset":0.777,"color":"#aac"},{"offset":0.779,"color":"#fff"},{"offset":0.7875,"color":"#fff"},{"offset":0.7895,"color":"#aac"},{"offset":0.7915,"color":"#fff"},{"offset":0.8,"color":"#fff"},{"offset":0.802,"color":"#aac"},{"offset":0.804,"color":"#fff"},{"offset":0.8125,"color":"#fff"},{"offset":0.8145,"color":"#aac"},{"offset":0.8165,"color":"#fff"},{"offset":0.825,"color":"#fff"},{"offset":0.827,"color":"#aac"},{"offset":0.829,"color":"#fff"},{"offset":0.8375,"color":"#fff"},{"offset":0.8395,"color":"#aac"},{"offset":0.8415,"color":"#fff"},{"offset":0.85,"color":"#fff"},{"offset":0.852,"color":"#aac"},{"offset":0.854,"color":"#fff"},{"offset":0.8625,"color":"#fff"},{"offset":0.8645,"color":"#aac"},{"offset":0.8665,"color":"#fff"},{"offset":0.875,"color":"#fff"},{"offset":0.877,"color":"#aac"},{"offset":0.879,"color":"#fff"},{"offset":0.8875,"color":"#fff"},{"offset":0.8895,"color":"#aac"},{"offset":0.8915,"color":"#fff"},{"offset":0.9,"color":"#fff"},{"offset":0.902,"color":"#aac"},{"offset":0.904,"color":"#fff"},{"offset":0.9125,"color":"#fff"},{"offset":0.9145,"color":"#aac"},{"offset":0.9165,"color":"#fff"},{"offset":0.925,"color":"#fff"},{"offset":0.927,"color":"#aac"},{"offset":0.929,"color":"#fff"},{"offset":0.9375,"color":"#fff"},{"offset":0.9395,"color":"#aac"},{"offset":0.9415,"color":"#fff"},{"offset":0.95,"color":"#fff"},{"offset":0.952,"color":"#aac"},{"offset":0.954,"color":"#fff"},{"offset":0.9625,"color":"#fff"},{"offset":0.9645,"color":"#aac"},{"offset":0.9665,"color":"#fff"},{"offset":0.975,"color":"#fff"},{"offset":0.977,"color":"#aac"},{"offset":0.979,"color":"#fff"},{"offset":0.9875,"color":"#fff"},{"offset":0.9895,"color":"#aac"},{"offset":0.9915,"color":"#fff"},{"offset":1,"color":"#fff"}]}},"encoding":{
"x":{"field":"edge","type":"quantitative","scale":{"domain":[0,0.75],"nice":false,"zero":false},"axis":{"orient":"bottom","title":"NN output (comb)","titleAnchor":"end","titlePadding":11,"labelPadding":30,"format":"~g","values":[0,0.1,0.2,0.3,0.4,0.5,0.6,0.7],"tickSize":-13}},
"y":{"field":"lo","type":"quantitative","scale":{"domain":[0.8,1.2],"nice":false,"zero":false},"axis":{"orient":"left","title":"Data / pred.","titleFontSize":34,"titleAnchor":"end","titlePadding":49,"labelPadding":26,"format":"~g","values":[0.8,0.9,1,1.1,1.2],"tickSize":-15}},
"y2":{"field":"hi"}}},
{"data":{"name":"fit"},"mark":{"type":"line","interpolate":"step-after","color":"#ff0000","strokeWidth":3,"clip":true},"encoding":{"x":{"field":"edge","type":"quantitative"},"y":{"field":"v","type":"quantitative"}}},
{"data":{"name":"points"},"mark":{"type":"rule","color":"#000","strokeWidth":1.5,"clip":true},"encoding":{"x":{"field":"c","type":"quantitative"},"y":{"field":"rlo","type":"quantitative"},"y2":{"field":"rhi"}}},
{"data":{"name":"points"},"mark":{"type":"point","filled":true,"color":"#000","opacity":1,"size":145,"clip":true},"encoding":{"x":{"field":"c","type":"quantitative"},"y":{"field":"r","type":"quantitative"}}}
]},
{"data":{"name":"points"},"mark":{"type":"point","opacity":0,"clip":true},"encoding":{
"x":{"field":"c","type":"quantitative","axis":{"orient":"top","title":null,"labels":false,"values":[0,0.02,0.04,0.06,0.08,0.1,0.12,0.14,0.16,0.18,0.2,0.22,0.24,0.26,0.28,0.3,0.32,0.34,0.36,0.38,0.4,0.42,0.44,0.46,0.48,0.5,0.52,0.54,0.56,0.58,0.6,0.62,0.64,0.66,0.68,0.7,0.72,0.74],"tickSize":{"condition":{"test":"round(datum.value*100)%10==0","value":-13},"value":-6.5}}},
"y":{"field":"r","type":"quantitative","axis":{"orient":"right","title":null,"labels":false,"values":[0.8,0.82,0.84,0.86,0.88,0.9,0.92,0.94,0.96,0.98,1,1.02,1.04,1.06,1.08,1.1,1.12,1.14,1.16,1.18,1.2],"tickSize":{"condition":{"test":"round(datum.value*100)%10==0","value":-15},"value":-8}}}}},
{"data":{"name":"points"},"mark":{"type":"point","opacity":0,"clip":true},"encoding":{
"x":{"field":"c","type":"quantitative","axis":{"orient":"bottom","title":null,"labels":false,"values":[0.02,0.04,0.06,0.08,0.12,0.14,0.16,0.18,0.22,0.24,0.26,0.28,0.32,0.34,0.36,0.38,0.42,0.44,0.46,0.48,0.52,0.54,0.56,0.58,0.62,0.64,0.66,0.68,0.72,0.74],"tickSize":-6.5}},
"y":{"field":"r","type":"quantitative","axis":{"orient":"left","title":null,"labels":false,"values":[0.82,0.84,0.86,0.88,0.92,0.94,0.96,0.98,1.02,1.04,1.06,1.08,1.12,1.14,1.16,1.18],"tickSize":-8}}}}
]}
]}
